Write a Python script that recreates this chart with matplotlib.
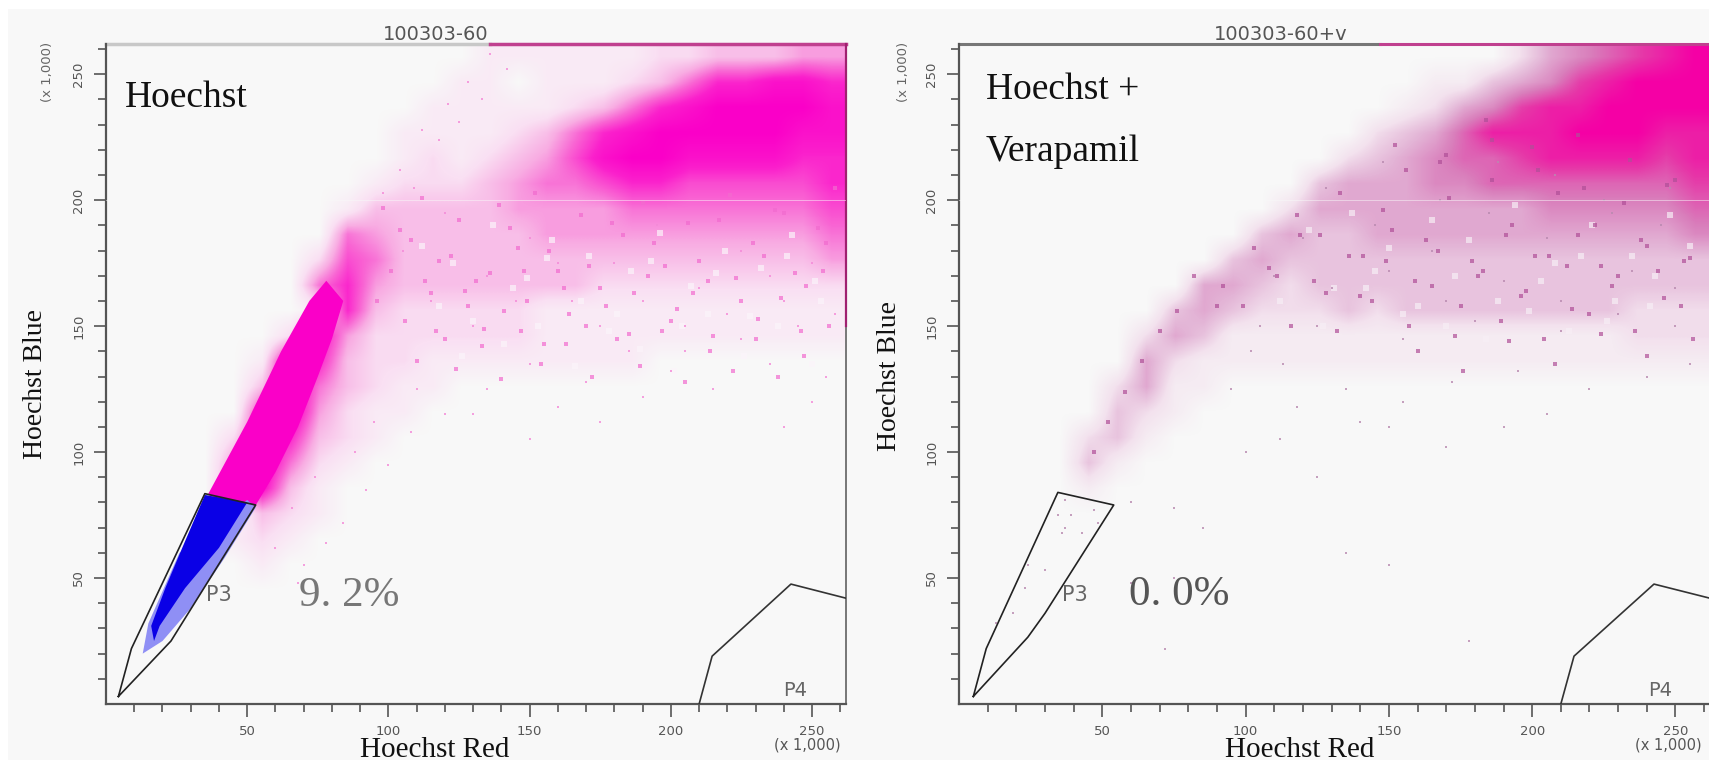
import numpy as np
import matplotlib
matplotlib.use("Agg")
import matplotlib.pyplot as plt
from matplotlib.colors import LinearSegmentedColormap
from matplotlib.patches import Rectangle

W, H = 1709, 760
plt.rcParams['font.family'] = ['DejaVu Sans']

# density, 0-9, rows from y=255 down to y=5, cols x=5..255
density_a = [
    "00000000000001111112233344",
    "00000000000011011123577887",
    "00000000000111112357899998",
    "00000000001111235789999988",
    "00000000001212346899888877",
    "00000000012223455677666667",
    "00000000133333444455555556",
    "00000000543333344444444445",
    "00000002653333333333333334",
    "00000005743333333222222222",
    "00000001732222211111111111",
    "00000028422222211111111111",
    "00000197322111111110000000",
    "00000395321100000000000000",
    "00000794211000000000000000",
    "00002773210000000000000000",
    "00004952100000000000000000",
    "00005831000000000000000000",
    "00000321000000000000000000",
    "00001210000000000000000000",
    "00000100000000000000000000",
    "00000000000000000000000000",
    "00000000000000000000000000",
    "00000000000000000000000000",
    "00000000000000000000000000",
    "00000000000000000000000000",
]
density_b = [
    "00000000000000000002456789",
    "00000000000000001134578999",
    "00000000000000012457889999",
    "00000000000000234688899988",
    "00000000000002345667888878",
    "00000000000034445566666667",
    "00000000000244444444555556",
    "00000000003433444444444445",
    "00000000034333333333333333",
    "00000000443233333333333333",
    "00000003432223233333333222",
    "00000024311111111111111222",
    "00000042111111111111111111",
    "00000241100000000000000000",
    "00000321000000000000000000",
    "00002310000000000000000000",
    "00003100000000000000000000",
    "00001000000000000000000000",
    "00000000000000000000000000",
    "00000000000000000000000000",
    "00000000000000000000000000",
    "00000000000000000000000000",
    "00000000000000000000000000",
    "00000000000000000000000000",
    "00000000000000000000000000",
    "00000000000000000000000000",
]

# solid pink stalk and blue population, panel a
stalk_x = [36, 50, 62, 72, 78, 84, 80, 75, 68, 60, 52]
stalk_y = [83, 112, 140, 160, 168, 160, 145, 130, 110, 92, 77]
blue_x = [35, 27, 21, 16, 17, 19, 28, 40, 50]
blue_y = [83, 62, 46, 31, 25, 31, 46, 62, 80]
pale_blue_x = [50, 53, 42, 30, 20, 13, 15, 26]
pale_blue_y = [81, 78, 58, 38, 25, 20, 32, 60]

# gates
p3_a_x = [4.4, 9, 35, 53, 23, 4.4]
p3_a_y = [3, 22, 83.5, 79, 25, 3]
p3_b_x = [5, 9.5, 34.5, 54, 30, 24, 5]
p3_b_y = [3, 22, 84, 79, 36, 26.5, 3]
p4_x = [210, 214.6, 242.5, 262]
p4_y = [0, 19, 47.6, 42]

# single events
spots_a_x = [136, 142, 128, 121, 133, 112, 118, 125, 104, 109, 98, 150, 170, 185, 200, 215, 235, 250, 245, 225,
             205, 190, 160, 135, 120, 108, 100, 92, 84, 78, 70, 68, 60, 66, 74, 88, 95, 110, 130, 150, 175, 240,
             255, 258, 105, 120, 135, 150, 165, 180, 195, 210, 225, 240, 250, 115, 130, 145, 160, 175, 190, 205,
             220, 235]
spots_a_y = [258, 252, 247, 238, 240, 228, 224, 231, 212, 205, 203, 135, 128, 140, 132, 125, 135, 120, 150, 145,
             150, 122, 118, 125, 115, 108, 95, 85, 72, 64, 55, 48, 62, 78, 90, 100, 112, 125, 115, 105, 112, 110,
             130, 155, 180, 195, 170, 185, 160, 175, 190, 165, 180, 160, 175, 160, 150, 160, 175, 150, 160, 140,
             155, 170]
clumps_a_x = [98, 104, 112, 118, 125, 131, 139, 146, 152, 160, 168, 175, 183, 190, 198, 206, 213, 221, 229, 237,
              244, 252, 258, 101, 108, 115, 122, 128, 136, 143, 149, 157, 164, 171, 179, 187, 194, 202, 210, 217,
              225, 233, 240, 248, 255, 96, 106, 113, 120, 127, 134, 141, 148, 155, 162, 170, 177, 185, 192, 200,
              208, 215, 223, 231, 239, 246, 254, 110, 117, 124, 133, 140, 147, 154, 163, 172, 181, 189, 197, 205,
              214, 222, 230, 238, 247, 256]
clumps_a_y = [197, 188, 201, 176, 192, 168, 198, 181, 203, 172, 194, 165, 186, 199, 174, 191, 168, 202, 183, 196,
              171, 189, 205, 172, 184, 163, 178, 158, 171, 189, 160, 180, 155, 174, 191, 163, 183, 157, 176, 192,
              160, 178, 195, 166, 183, 160, 152, 168, 145, 164, 149, 156, 172, 143, 165, 150, 158, 147, 170, 152,
              163, 146, 169, 153, 161, 148, 172, 136, 148, 133, 142, 129, 148, 135, 143, 130, 145, 134, 148, 128,
              140, 132, 145, 130, 138, 150]
holes_a_x = [112, 123, 137, 149, 158, 171, 186, 196, 207, 219, 232, 243, 251, 118, 130, 144, 156, 168, 181, 193,
             204, 216, 228, 241, 253, 126, 141, 153, 166, 178, 189, 201, 213, 226, 238, 250]
holes_a_y = [182, 175, 190, 169, 184, 178, 172, 187, 166, 180, 173, 186, 168, 158, 152, 165, 177, 160, 155, 176,
             150, 171, 154, 178, 160, 138, 143, 150, 134, 148, 141, 132, 155, 138, 150, 135]
spots_b_x = [37, 36, 34.5, 39, 48.5, 47, 37, 43, 23, 19, 30, 24, 13, 60, 75, 85, 100, 112, 125, 140, 155, 170,
             190, 205, 220, 240, 255, 72, 95, 118, 135, 150, 172, 195, 125, 155, 180, 210, 230, 250, 110, 130,
             150, 170, 190, 210, 235, 250, 120, 145, 165, 185, 205, 225, 245, 105, 128, 148, 168, 188, 208, 228,
             248, 102, 113, 60, 75, 135, 150, 178]
spots_b_y = [70, 68, 75, 75, 72, 77, 81, 68, 46, 36, 53, 55, 32, 80, 78, 70, 100, 105, 90, 112, 120, 102, 110,
             115, 125, 130, 135, 22, 125, 118, 125, 110, 128, 132, 150, 145, 152, 148, 155, 150, 170, 165, 172,
             160, 168, 160, 172, 165, 185, 190, 180, 195, 185, 200, 190, 150, 205, 215, 200, 215, 210, 195, 205,
             140, 135, 48, 50, 60, 55, 25]
clumps_b_x = [118, 126, 133, 141, 148, 156, 163, 171, 179, 186, 193, 201, 209, 216, 224, 232, 240, 247, 255, 103,
              111, 119, 128, 136, 144, 151, 159, 167, 175, 183, 191, 198, 206, 214, 222, 230, 238, 246, 253, 92,
              99, 108, 116, 124, 132, 140, 149, 157, 165, 173, 181, 189, 196, 204, 212, 220, 228, 236, 244, 252,
              82, 90, 70, 76, 64, 58, 52, 47, 160, 176, 192, 208, 224, 240, 256, 170, 186, 202, 218, 234, 250,
              152, 168, 184, 200, 216]
clumps_b_y = [194, 186, 203, 178, 196, 212, 184, 201, 176, 208, 190, 178, 203, 186, 174, 199, 182, 206, 177, 181,
              170, 186, 163, 178, 160, 188, 168, 180, 158, 172, 186, 164, 178, 157, 190, 170, 184, 161, 176, 166,
              158, 173, 150, 168, 148, 162, 176, 150, 166, 146, 170, 152, 162, 145, 174, 155, 166, 148, 172, 158,
              170, 158, 148, 156, 136, 124, 112, 100, 140, 132, 144, 135, 147, 138, 145, 218, 224, 212, 205, 216,
              208, 222, 215, 232, 221, 226]
holes_b_x = [122, 137, 150, 165, 178, 194, 208, 221, 235, 248, 131, 145, 160, 173, 188, 203, 217, 229, 243, 255,
             112, 127, 142, 155, 170, 184, 199, 213, 226, 241]
holes_b_y = [188, 195, 181, 192, 184, 198, 175, 190, 178, 194, 165, 172, 158, 170, 160, 168, 178, 160, 170, 182,
             160, 150, 165, 155, 150, 145, 156, 148, 152, 158]

xticks = [50, 100, 150, 200, 250]
yticks = [50, 100, 150, 200, 250]
xticklabels = ["50", "100", "150", "200", "250"]
yticklabels = ["50", "100", "150", "200", "250"]
xminor = list(range(10, 261, 10))
yminor = list(range(10, 261, 10))


def grid(rows):
    return np.array([[int(c) for c in r.ljust(26, "0")[:26]] for r in rows])


def px(x, y):
    return x / W, 1 - y / H


fig = plt.figure(figsize=(W / 100, H / 100), dpi=100, facecolor="white")
fig.patches.append(Rectangle(px(8, 760), (W - 8) / W, 751 / H, transform=fig.transFigure,
                             facecolor="#f8f8f8", edgecolor="none", zorder=-5))

cmap_a = LinearSegmentedColormap.from_list("a", ["#f8f8f8", "#fae0f3", "#f8aee3", "#f963d3", "#fb20cc", "#fa00c8"])
cmap_b = LinearSegmentedColormap.from_list("b", ["#f8f8f8", "#f3e2ee", "#e3b4d6", "#d97dbb", "#e638a8", "#f500a5"])


def panel(left, right, xmax, rows, cmap, p3x, p3y):
    ax = fig.add_axes([left / W, 1 - 704 / H, (right - left) / W, 660 / H])
    ax.set_facecolor("none")
    ax.imshow(grid(rows), cmap=cmap, vmin=0, vmax=9, extent=(0, 262, 0, 262), origin="upper",
              interpolation="bilinear", aspect="auto", zorder=1)
    ax.axhline(200, color="#f8f8f8", lw=0.6, alpha=0.6, zorder=3)
    ax.plot(p3x, p3y, color="#222222", lw=1.2, zorder=6)
    ax.plot(p4_x, p4_y, color="#333333", lw=1.2, zorder=6)
    ax.set_xlim(0, xmax)
    ax.set_ylim(0, 262)
    for s in ["top", "right"]:
        ax.spines[s].set_visible(False)
    for s in ["left", "bottom"]:
        ax.spines[s].set_color("#555555")
        ax.spines[s].set_linewidth(1.6)
    ax.set_xticks(xticks, xticklabels, fontsize=9.5, color="#555555")
    ax.set_yticks(yticks, yticklabels, fontsize=9.5, color="#555555", rotation=90, va="center")
    ax.set_xticks(xminor, minor=True)
    ax.set_yticks(yminor, minor=True)
    ax.tick_params(which="major", length=9, width=1.2, color="#555555", pad=6)
    ax.tick_params(which="minor", length=6, width=1.2, color="#555555")
    return ax


ax1 = panel(106, 846, 262, density_a, cmap_a, p3_a_x, p3_a_y)
ax2 = panel(959, 1709, 261.7, density_b, cmap_b, p3_b_x, p3_b_y)

ax1.scatter(holes_a_x, holes_a_y, s=16, marker="s", color="#fbf4fa", linewidths=0, alpha=0.7, zorder=2)
ax1.scatter(clumps_a_x, clumps_a_y, s=8, marker="s", color="#f26bcf", linewidths=0, alpha=0.7, zorder=2.2)
ax1.scatter(spots_a_x, spots_a_y, s=4, marker="s", color="#f48ad8", linewidths=0, alpha=0.8, zorder=2.4)
ax2.scatter(holes_b_x, holes_b_y, s=16, marker="s", color="#f7eef5", linewidths=0, alpha=0.7, zorder=2)
ax2.scatter(clumps_b_x, clumps_b_y, s=7, marker="s", color="#b04f98", linewidths=0, alpha=0.7, zorder=2.2)
ax2.scatter(spots_b_x, spots_b_y, s=4, marker="s", color="#b98ab0", linewidths=0, alpha=0.8, zorder=2.4)

ax1.fill(stalk_x, stalk_y, color="#fa00c8", lw=0, zorder=3)
ax1.fill(pale_blue_x, pale_blue_y, color="#8f8ff5", lw=0, zorder=4)
ax1.fill(blue_x, blue_y, color="#0a00e6", lw=0, zorder=5)

# top and right edges where events pile up
ax1.plot([0, 136], [262, 262], color="#c8c8c8", lw=2.5, clip_on=False)
ax1.plot([136, 262], [262, 262], color="#c0408f", lw=2.5, clip_on=False)
ax1.plot([262, 262], [0, 150], color="#777777", lw=1.4, clip_on=False)
ax1.plot([262, 262], [150, 262], color="#a02070", lw=1.6, clip_on=False)
ax2.plot([0, 147], [262, 262], color="#777777", lw=2.2, clip_on=False)
ax2.plot([147, 261.7], [262, 262], color="#c0408f", lw=2.2, clip_on=False)

for (x, y, s) in [(436, 34, "100303-60"), (1281, 34, "100303-60+v")]:
    fig.text(*px(x, y), s, ha="center", va="center", fontsize=14, color="#555555")
for (x, y) in [(48, 72), (903, 72)]:
    fig.text(*px(x, y), "(x 1,000)", rotation=90, ha="center", va="center", fontsize=9.5, color="#666666")
for (x, y) in [(807, 745), (1668, 745)]:
    fig.text(*px(x, y), "(x 1,000)", ha="center", va="center", fontsize=10.5, color="#555555")

serif = ['Liberation Serif', 'DejaVu Serif']
fig.text(*px(125, 98), "Hoechst", family=serif, fontsize=27, color="#111111", va="center")
fig.text(*px(986, 90), "Hoechst +", family=serif, fontsize=27, color="#111111", va="center")
fig.text(*px(986, 152), "Verapamil", family=serif, fontsize=27, color="#111111", va="center")
for (x, y, s) in [(435, 750, "Hoechst Red"), (1300, 750, "Hoechst Red")]:
    fig.text(*px(x, y), s, family=serif, fontsize=21, color="#111111", ha="center", va="center")
for (x, y) in [(36, 384), (890, 376)]:
    fig.text(*px(x, y), "Hoechst Blue", family=serif, fontsize=20, color="#111111", rotation=90,
             ha="center", va="center")

fig.text(*px(349, 596), "9. 2%", family=serif, fontsize=31, color="#777777", ha="center", va="center", zorder=8)
fig.text(*px(1179, 595), "0. 0%", family=serif, fontsize=31, color="#555555", ha="center", va="center", zorder=8)
for (x, y, s, fs) in [(219, 595, "P3", 15), (1075, 595, "P3", 15), (795, 690, "P4", 14), (1660, 690, "P4", 14)]:
    fig.text(*px(x, y), s, fontsize=fs, color="#666666", ha="center", va="center", zorder=8)

fig.savefig("out.png", dpi=100)
